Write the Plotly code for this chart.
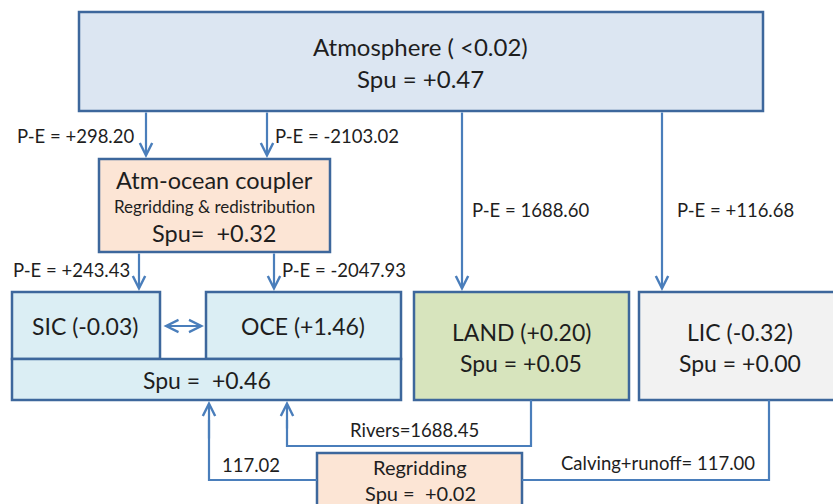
import plotly.graph_objects as go

# ---- data (text values) ----
atm_label = "Atmosphere ( <0.02)"
atm_spu = "Spu = +0.47"
cpl_label = "Atm-ocean coupler"
cpl_sub = "Regridding & redistribution"
cpl_spu = "Spu=  +0.32"
sic_label = "SIC (-0.03)"
oce_label = "OCE (+1.46)"
ocean_spu = "Spu =  +0.46"
land_label = "LAND (+0.20)"
land_spu = "Spu = +0.05"
lic_label = "LIC (-0.32)"
lic_spu = "Spu = +0.00"
rg_label = "Regridding"
rg_spu = "Spu =  +0.02"
pe_atm = ["P-E = +298.20", "P-E = -2103.02", "P-E = 1688.60", "P-E = +116.68"]
pe_cpl = ["P-E = +243.43", "P-E = -2047.93"]
rivers = "Rivers=1688.45"
calving = "Calving+runoff= 117.00"
regrid_out = "117.02"

W, H = 833, 504
FONT = "Lato"
TXT = "#1e1e1e"
BORDER = "#3d679c"
ARROW = "#4a7ebb"

fig = go.Figure()
shapes = []
ann = []

def box(x0, y0, x1, y1, fill):
    shapes.append(dict(type="rect", xref="x", yref="y", x0=x0, y0=y0, x1=x1, y1=y1,
                       fillcolor=fill, line=dict(color=BORDER, width=2.5), layer="below"))

def text(x, y, s, size, anchor="center"):
    ann.append(dict(x=x, y=y, xref="x", yref="y", text=s, showarrow=False,
                    xanchor=anchor, yanchor="middle",
                    font=dict(family=FONT, size=size, color=TXT)))

def seg(pts):
    d = "M" + " L".join(f"{x},{y}" for x, y in pts)
    shapes.append(dict(type="path", xref="x", yref="y", path=d,
                       line=dict(color=ARROW, width=2.2)))

def arrow(x0, y0, x1, y1, both=False):
    ann.append(dict(x=x1, y=y1, ax=x0, ay=y0, xref="x", yref="y", axref="x", ayref="y",
                    text="", showarrow=True, arrowhead=5, startarrowhead=5,
                    arrowside="end+start" if both else "end",
                    arrowsize=1.1, startarrowsize=1.1, arrowwidth=2.2, arrowcolor=ARROW,
                    standoff=0, startstandoff=0))

# boxes
box(79, 12, 763, 111, "#dce6f2")
box(99, 159, 330, 252, "#fce5d5")
box(12, 292, 160, 359, "#dbeef4")
box(206, 292, 401, 359, "#dbeef4")
box(12, 359, 401, 400, "#dbeef4")
box(414, 292, 629, 400, "#d7e4bd")
box(639, 292, 850, 400, "#f2f2f2")
box(317, 453, 522, 520, "#fce5d5")

# arrows from atmosphere
arrow(146, 111, 146, 158)
arrow(267, 111, 267, 158)
arrow(462, 111, 462, 291)
arrow(662, 111, 662, 291)
# arrows from coupler
arrow(139, 252, 139, 291)
arrow(274, 252, 274, 291)
# SIC <-> OCE
arrow(162, 326, 204, 326, both=True)
# regridding -> ocean
seg([(317, 480), (209, 480), (209, 420)])
arrow(209, 440, 209, 401)
# rivers
seg([(531, 400), (531, 446), (287, 446), (287, 420)])
arrow(287, 430, 287, 401)
# LIC -> regridding
seg([(769, 400), (769, 480), (522, 480)])

# texts
text(420, 46, atm_label, 24)
text(420, 78, atm_spu, 24)
text(214, 180, cpl_label, 23.5)
text(214, 206, cpl_sub, 17)
text(214, 233, cpl_spu, 23.5)
text(85, 326, sic_label, 23)
text(303, 326, oce_label, 23)
text(207, 380, ocean_spu, 23)
text(521, 332, land_label, 23)
text(521, 363, land_spu, 23)
text(740, 332, lic_label, 23)
text(740, 363, lic_spu, 23)
text(420, 467, rg_label, 20)
text(420, 493, rg_spu, 20)

text(136, 136, pe_atm[0], 18.5, "right")
text(273, 136, pe_atm[1], 18.5, "left")
text(470, 210, pe_atm[2], 18.5, "left")
text(675, 210, pe_atm[3], 18.5, "left")
text(132, 270, pe_cpl[0], 18.5, "right")
text(280, 270, pe_cpl[1], 18.5, "left")
text(414, 430, rivers, 18.5)
text(658, 463, calving, 18.5)
text(251, 465, regrid_out, 18.5)

fig.update_layout(
    width=W, height=H, margin=dict(l=0, r=0, t=0, b=0),
    paper_bgcolor="white", plot_bgcolor="white",
    xaxis=dict(range=[0, W], visible=False, fixedrange=True),
    yaxis=dict(range=[H, 0], visible=False, fixedrange=True),
    shapes=shapes, annotations=ann, showlegend=False,
)
fig.write_html("out.html", config={"displayModeBar": False},
               post_script="document.body.style.margin='0';document.body.style.overflow='hidden';")
